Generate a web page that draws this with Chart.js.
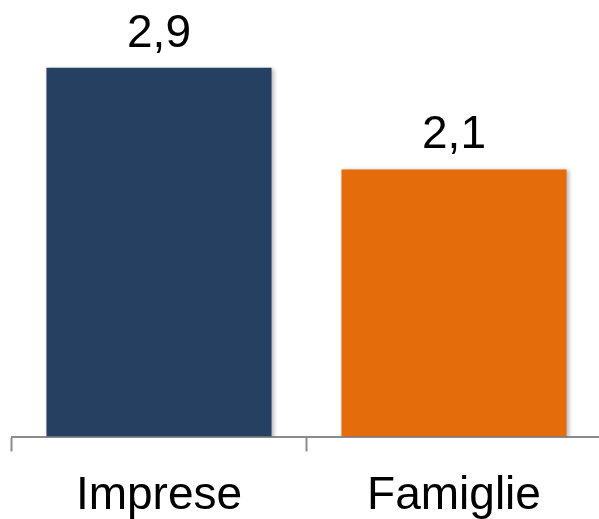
<!DOCTYPE html>
<html>
<head>
<meta charset="utf-8">
<script src="https://cdn.jsdelivr.net/npm/chart.js@4/dist/chart.umd.min.js"></script>
<style>
html,body{margin:0;padding:0;overflow:hidden;background:#fff;}
#wrap{position:relative;width:604px;height:519px;}
</style>
</head>
<body>
<div id="wrap"><canvas id="c" width="604" height="519"></canvas></div>
<script>
const categories = ["Imprese", "Famiglie"];
const values = [2.9, 2.1];
const valueLabels = ["2,9", "2,1"];
const barColors = ["#264061", "#E46C0A"];

const FONT = "'Liberation Sans', Arial, sans-serif";

const shadowPlugin = {
  id: 'shadow',
  beforeDatasetDraw(chart) {
    const ctx = chart.ctx;
    ctx.save();
    ctx.shadowColor = 'rgba(0,0,0,0.28)';
    ctx.shadowBlur = 4;
    ctx.shadowOffsetX = 2;
    ctx.shadowOffsetY = 1;
  },
  afterDatasetDraw(chart) {
    chart.ctx.restore();
  }
};

const valueLabelPlugin = {
  id: 'valueLabels',
  afterDatasetsDraw(chart) {
    const ctx = chart.ctx;
    const meta = chart.getDatasetMeta(0);
    ctx.save();
    ctx.font = '46px ' + FONT;
    ctx.fillStyle = '#000';
    ctx.textAlign = 'center';
    ctx.textBaseline = 'alphabetic';
    meta.data.forEach((bar, i) => {
      ctx.fillText(valueLabels[i], bar.x, bar.y - 21);
    });
    ctx.restore();
  }
};

new Chart(document.getElementById('c'), {
  type: 'bar',
  data: {
    labels: categories,
    datasets: [{
      data: values,
      backgroundColor: barColors,
      borderWidth: 0,
      barPercentage: 0.763,
      categoryPercentage: 1.0
    }]
  },
  options: {
    responsive: false,
    animation: false,
    devicePixelRatio: 1,
    layout: { padding: { left: 11.5, right: 2.5, top: 55, bottom: 0 } },
    plugins: { legend: { display: false }, tooltip: { enabled: false } },
    scales: {
      y: { display: false, min: 0, max: 3 },
      x: {
        offset: true,
        grid: {
          offset: true,
          drawOnChartArea: false,
          drawTicks: true,
          tickLength: 15,
          tickWidth: 2,
          tickColor: '#8c8c8c'
        },
        border: { display: true, color: '#8c8c8c', width: 2 },
        ticks: {
          color: '#000',
          padding: 17,
          font: { family: FONT, size: 46 },
          maxRotation: 0,
          autoSkip: false
        },
        afterFit(scale) { scale.height = 82.5; }
      }
    }
  },
  plugins: [shadowPlugin, valueLabelPlugin]
});
</script>
</body>
</html>
